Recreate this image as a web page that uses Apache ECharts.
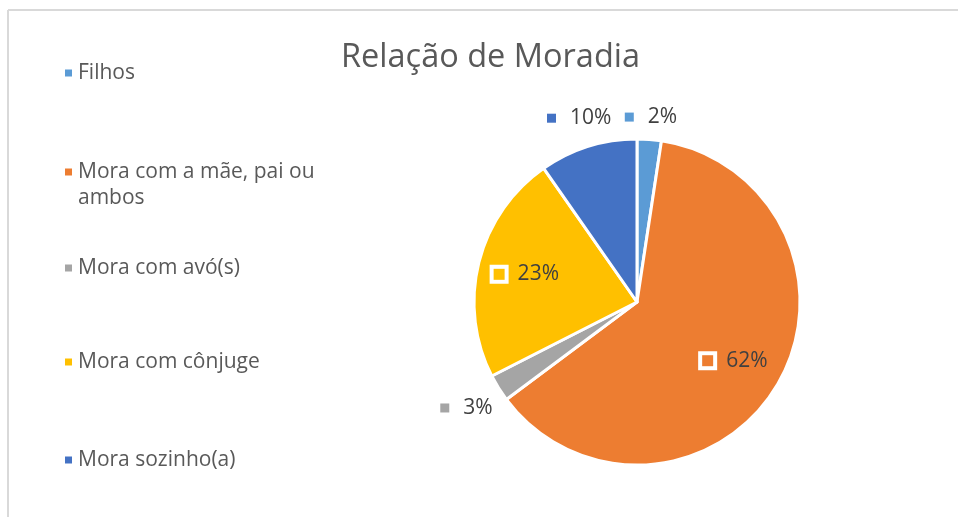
<!DOCTYPE html>
<html><head><meta charset="utf-8">
<script src="https://cdn.jsdelivr.net/npm/echarts@6/dist/echarts.min.js"></script>
<style>html,body{margin:0;padding:0;background:#fff}#c{width:958px;height:517px}</style>
</head><body><div id="c"></div>
<script>
// ---- data ----
const categories = ['Filhos', 'Mora com a mãe, pai ou ambos', 'Mora com avó(s)', 'Mora com cônjuge', 'Mora sozinho(a)'];
const values = [2.4, 62.4, 2.7, 22.8, 9.7];
const legendLabels = ['Filhos', 'Mora com a mãe, pai ou\nambos', 'Mora com avó(s)', 'Mora com cônjuge', 'Mora sozinho(a)'];
const titleText = 'Relação de Moradia';

// ---- style ----
const colors = ['#5B9BD5', '#ED7D31', '#A5A5A5', '#FFC000', '#4472C4'];
const FONT = '"Open Sans", "Noto Sans", sans-serif';
const CX = 637, CY = 302, R = 163;
const legendCenters = [73, 172, 268, 362, 460];
const LH = 26;

const total = values.reduce((a, b) => a + b, 0);
const mids = [];
let acc = 0;
values.forEach(v => { mids.push((acc + v / 2) / total * 2 * Math.PI); acc += v; });
const inside = values.map(v => v / total >= 0.15);

const legends = categories.map((name, i) => {
  const lbl = legendLabels[i];
  const multi = lbl.indexOf('\n') >= 0;
  const text = multi ? '\u00a0\n' + lbl : lbl;
  const lines = text.split('\n').length;
  return {
    orient: 'vertical', left: 63, top: legendCenters[i] - lines * LH / 2,
    padding: 0,
    data: [name], icon: 'rect', itemWidth: 9, itemHeight: 9,
    selectedMode: false,
    formatter: () => text,
    textStyle: { fontFamily: FONT, fontSize: 21, color: '#595959', lineHeight: LH }
  };
});

const chart = echarts.init(document.getElementById('c'), null, { renderer: 'canvas' });
chart.setOption({
  animation: false,
  backgroundColor: '#fff',
  title: {
    text: titleText, left: 336, top: 36,
    textStyle: { fontFamily: FONT, fontSize: 32.5, fontWeight: 'normal', color: '#595959' }
  },
  legend: legends,
  graphic: [
    { type: 'line', shape: { x1: 8, y1: 10, x2: 960, y2: 10 }, style: { stroke: '#d9d9d9', lineWidth: 2 } },
    { type: 'line', shape: { x1: 8, y1: 10, x2: 8, y2: 520 }, style: { stroke: '#d9d9d9', lineWidth: 2 } }
  ],
  series: [{
    type: 'pie', center: [CX, CY], radius: R, startAngle: 90, clockwise: true,
    avoidLabelOverlap: false,
    itemStyle: { borderColor: '#fff', borderWidth: 3 },
    labelLine: { show: false },
    labelLayout: function (p) {
      const i = p.dataIndex, th = mids[i];
      const w = p.labelRect.width, h = p.labelRect.height;
      const d = inside[i] ? R * 0.7 : R + 10 + Math.abs(Math.sin(th)) * w / 2 + Math.abs(Math.cos(th)) * h / 2;
      return { x: CX + d * Math.sin(th), y: CY - d * Math.cos(th), align: 'center', verticalAlign: 'middle' };
    },
    data: categories.map((n, i) => ({
      name: n, value: values[i],
      itemStyle: { color: colors[i] },
      label: {
        show: true,
        position: inside[i] ? 'inside' : 'outside',
        formatter: p => '{m|}{t|' + Math.round(p.percent) + '%}',
        rich: {
          m: inside[i]
            ? { width: 11, height: 11, backgroundColor: colors[i], borderColor: '#fff', borderWidth: 4 }
            : { width: 9, height: 9, backgroundColor: colors[i] },
          t: { fontFamily: FONT, fontSize: 21, color: '#404040', padding: [0, 0, 0, inside[i] ? 13 : 14] }
        }
      }
    }))
  }]
});
</script>
</body></html>
